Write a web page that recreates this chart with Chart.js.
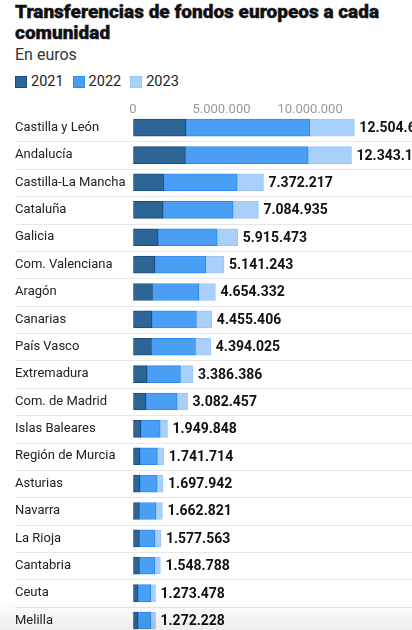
<!DOCTYPE html>
<html lang="es">
<head>
<meta charset="utf-8">
<title>Transferencias de fondos europeos a cada comunidad</title>
<script src="https://cdn.jsdelivr.net/npm/chart.js@4.4.1/dist/chart.umd.min.js"></script>
<style>
  html, body { margin: 0; padding: 0; background: #fff; overflow: hidden; }
  body { width: 412px; height: 630px; position: relative; font-family: 'Roboto', sans-serif; color: #111; }
  h1 { position: absolute; left: 15px; top: 1px; margin: 0; width: 395px; font-size: 19px; line-height: 21px; font-weight: 900; -webkit-text-stroke: 0.4px #111; }
  .sub { position: absolute; left: 15px; top: 45px; font-size: 16px; color: #333; }
  .legend { position: absolute; left: 15px; top: 73px; display: flex; font-size: 14.5px; color: #222; }
  .legend span { display: flex; align-items: center; margin-right: 9px; }
  .legend i { display: inline-block; width: 10px; height: 10px; margin-right: 4px; border: 1px solid; }
  #wrap { position: absolute; left: 0; top: 95px; width: 412px; height: 550px; }
  .fade { position: absolute; left: 0; right: 0; top: 600px; height: 30px; pointer-events: none;
          background: linear-gradient(rgba(0,0,0,0), rgba(0,0,0,0.07)); }
</style>
</head>
<body>
<h1>Transferencias de fondos europeos a cada comunidad</h1>
<div class="sub">En euros</div>
<div class="legend" id="legend"></div>
<div id="wrap"><canvas id="chart"></canvas></div>
<div class="fade"></div>

<script>
// ── Datos ──
const regiones = [
  'Castilla y León', 'Andalucía', 'Castilla-La Mancha', 'Cataluña', 'Galicia',
  'Com. Valenciana', 'Aragón', 'Canarias', 'País Vasco', 'Extremadura',
  'Com. de Madrid', 'Islas Baleares', 'Región de Murcia', 'Asturias', 'Navarra',
  'La Rioja', 'Cantabria', 'Ceuta', 'Melilla',
];
const serie2021 = [
  2980000, 2960000, 1730000, 1690000, 1410000,
  1230000, 1100000, 1060000, 1040000, 790000,
  720000, 440000, 380000, 380000, 360000,
  360000, 360000, 280000, 280000,
];
const serie2022 = [
  7000000, 6930000, 4150000, 3960000, 3340000,
  2880000, 2610000, 2520000, 2490000, 1890000,
  1770000, 1090000, 1000000, 980000, 940000,
  880000, 870000, 720000, 720000,
];
const serie2023 = [
  2524650, 2453170, 1492217, 1434935, 1165473,
  1031243, 944332, 875406, 864025, 706386,
  592457, 419848, 361714, 337942, 362821,
  337563, 318788, 273478, 272228,
];
const totales = [
  12504650, 12343170, 7372217, 7084935, 5915473,
  5141243, 4654332, 4455406, 4394025, 3386386,
  3082457, 1949848, 1741714, 1697942, 1662821,
  1577563, 1548788, 1273478, 1272228,
];
const ticksX = [0, 5000000, 10000000, 15000000];
const tickLabels = ['0', '5.000.000', '10.000.000', ''];

const series = [
  { label: '2021', data: serie2021, bg: '#2e6597', border: '#1b4a7c' },
  { label: '2022', data: serie2022, bg: '#4a9ff5', border: '#2b8cf0' },
  { label: '2023', data: serie2023, bg: '#a9cffb', border: '#9cc6f6' },
];

// ── Helpers ──
function fmtEs(n) {
  return String(Math.round(n)).replace(/\B(?=(\d{3})+(?!\d))/g, '.');
}

// Leyenda HTML
const legend = document.getElementById('legend');
for (const s of series) {
  const span = document.createElement('span');
  span.innerHTML = `<i style="background:${s.bg};border-color:${s.border}"></i>${s.label}`;
  legend.appendChild(span);
}

// Líneas separadoras entre filas, de borde a borde
const separadores = {
  id: 'separadores',
  beforeDatasetsDraw(chart) {
    const y = chart.scales.y;
    const ctx = chart.ctx;
    const band = y.getPixelForValue(1) - y.getPixelForValue(0);
    ctx.save();
    ctx.strokeStyle = '#e8e8e8';
    ctx.lineWidth = 1;
    for (let i = 0; i < regiones.length; i++) {
      const py = Math.round(y.getPixelForValue(i) + band / 2) + 0.5;
      ctx.beginPath();
      ctx.moveTo(15, py);
      ctx.lineTo(chart.width, py);
      ctx.stroke();
    }
    ctx.restore();
  },
};

// Totales al final de cada barra
const etiquetasTotales = {
  id: 'etiquetasTotales',
  afterDraw(chart) {
    const ctx = chart.ctx;
    const meta = chart.getDatasetMeta(series.length - 1);
    ctx.save();
    ctx.font = 'bold 14px Roboto';
    ctx.fillStyle = '#111';
    ctx.textBaseline = 'middle';
    meta.data.forEach((bar, i) => ctx.fillText(fmtEs(totales[i]), bar.x + 5, bar.y + 1));
    ctx.restore();
  },
};

new Chart(document.getElementById('chart'), {
  type: 'bar',
  data: {
    labels: regiones,
    datasets: series.map(s => ({
      label: s.label,
      data: s.data,
      backgroundColor: s.bg,
      borderColor: s.border,
      borderWidth: 1,
      borderSkipped: false,
      barThickness: 17,
    })),
  },
  options: {
    indexAxis: 'y',
    responsive: true,
    maintainAspectRatio: false,
    animation: false,
    layout: { padding: { left: 15, right: 0, top: 0, bottom: 0 } },
    plugins: { legend: { display: false }, tooltip: { enabled: false } },
    scales: {
      x: {
        type: 'linear',
        position: 'top',
        stacked: true,
        min: 0,
        max: 15760000,
        z: 1,
        afterBuildTicks: s => { s.ticks = ticksX.map(v => ({ value: v })); },
        afterFit: s => { s.height = 19; },
        ticks: {
          color: '#9a9a9a',
          font: { family: 'Roboto', size: 13 },
          padding: -4,
          callback: (v, i) => tickLabels[i],
        },
        grid: { color: 'rgba(255,255,255,0.6)', drawTicks: false },
        border: { display: false },
      },
      y: {
        stacked: true,
        afterFit: s => { s.width = 118; },
        ticks: {
          color: '#222',
          font: { family: 'Roboto', size: 13 },
          crossAlign: 'far',
        },
        grid: { display: false },
        border: { display: false },
      },
    },
  },
  plugins: [separadores, etiquetasTotales],
});
</script>
</body>
</html>
